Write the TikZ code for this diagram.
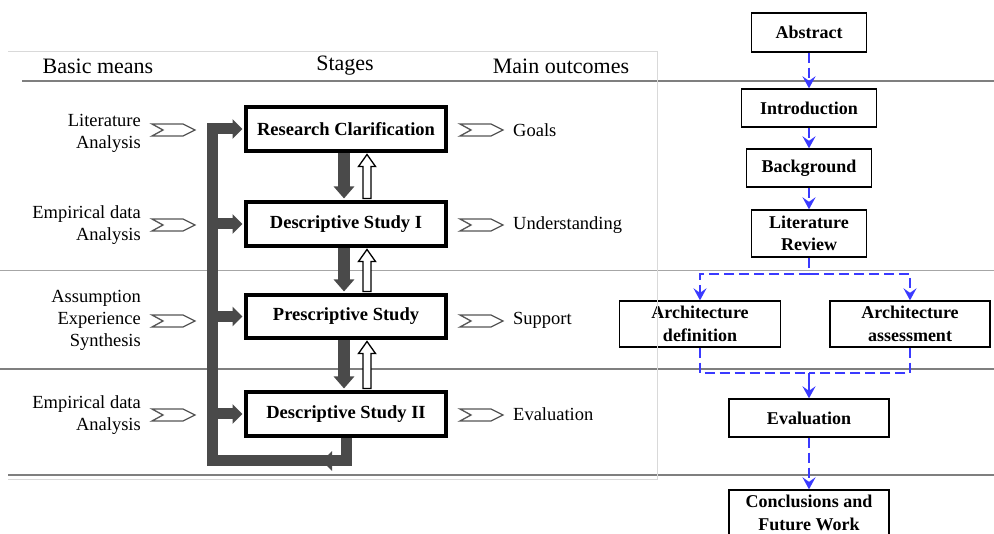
\documentclass[tikz,border=0pt]{standalone}
\usepackage{fontspec}
\setmainfont{Liberation Serif}
\usetikzlibrary{arrows.meta,calc}
\definecolor{barfill}{HTML}{4A4A4A}
\definecolor{flowblue}{HTML}{3A3AFF}
\definecolor{rulegray}{HTML}{7F7F7F}
\definecolor{rulelight}{HTML}{A6A6A6}
\definecolor{framegray}{HTML}{D9D9D9}
\definecolor{chevgray}{HTML}{555555}

\pgfdeclarelayer{rules}
\pgfdeclarelayer{links}
\pgfsetlayers{rules,links,main}

% hollow upward arrow between two stacked stage boxes
\newcommand{\hollowup}[2]{%
  \draw[hollow] let \p1=(#1.south), \p2=(#2.north) in
    (\x1+17pt,\y2+1.75pt) -- (\x1+17pt,\y1-13.75pt) -- (\x1+12.5pt,\y1-13.75pt)
    -- (\x1+21pt,\y1-1.75pt) -- (\x1+29.5pt,\y1-13.75pt) -- (\x1+25pt,\y1-13.75pt)
    -- (\x1+25pt,\y2+1.75pt) -- cycle;}

\begin{document}
\begin{tikzpicture}[x=1pt,y=-1pt,
  stagebox/.style={draw=black, line width=3.5pt, fill=white, minimum width=200pt,
    inner sep=0pt, font=\fontsize{18.5}{22}\selectfont\bfseries},
  chapbox/.style={draw=black, line width=1.3pt, fill=white, inner sep=0pt,
    align=center, font=\fontsize{18}{22.5}\selectfont\bfseries},
  header/.style={font=\fontsize{22}{26}\selectfont, inner sep=0pt},
  means/.style={font=\fontsize{18.5}{22}\selectfont, align=right, anchor=east, inner sep=0pt},
  outcome/.style={font=\fontsize{18.5}{22}\selectfont, anchor=west, inner sep=0pt},
  feedback/.style={draw=barfill, line width=11pt},
  fbtip/.style={-{Triangle[length=10pt,width=19pt]}},
  downbar/.style={draw=barfill, line width=12pt, -{Triangle[length=12pt,width=20pt]}},
  hollow/.style={draw=black, line width=1.3pt, fill=white, line join=miter},
  flowline/.style={draw=flowblue, line width=2pt, dash pattern=on 10pt off 5pt},
  flow/.style={flowline, -{Stealth[length=12pt,width=13pt,inset=4.5pt]}},
  chev/.pic={\draw[chevgray, line width=1.3pt, fill=white, line join=miter]
    (0,-6) -- (31,-6) -- (43,0) -- (31,6) -- (0,6) -- (11,0) -- cycle;}
]
\useasboundingbox (0,0) rectangle (994,534);
\clip (0,0) rectangle (994,534);

% horizontal rules of the table
\begin{pgfonlayer}{rules}
  \draw[rulegray, line width=1.3pt] (22,81) -- (994,81);
  \draw[rulelight, line width=1.3pt] (0,270.5) -- (994,270.5);
  \draw[rulegray, line width=1.3pt] (0,369) -- (994,369);
  \draw[rulegray, line width=1.3pt] (8,475) -- (994,475);
\end{pgfonlayer}

% column headers
\node[header] (hmeans) at (98,66) {Basic means};
\node[header] (hstages) at (345,66) {Stages};
\node[header] (houts) at (561,66) {Main outcomes};

% basic means
\node[means] (m1) at (141,133) {Literature\\Analysis};
\node[means] (m2) at (141,225) {Empirical data\\Analysis};
\node[means] (m3) at (141,320) {Assumption\\Experience\\Synthesis};
\node[means] (m4) at (141,415) {Empirical data\\Analysis};

% main outcomes
\node[outcome] (o1) at (513,130) {Goals};
\node[outcome] (o2) at (513,225) {Understanding};
\node[outcome] (o3) at (513,320) {Support};
\node[outcome] (o4) at (513,414) {Evaluation};

% notched input / output arrows
\foreach \yy in {130,225,321,415} {
  \pic at (152,\yy) {chev};
  \pic at (460,\yy) {chev};
}

% stages
\node[stagebox, minimum height=44pt] (rc) at (346,129) {Research Clarification};
\node[stagebox, minimum height=44pt] (ds1) at (346,224) {Descriptive Study I};
\node[stagebox, minimum height=43pt] (ps) at (346,316.5) {Prescriptive Study};
\node[stagebox, minimum height=44pt] (ds2) at (346,414) {Descriptive Study II};

\coordinate (fbL) at (212.5,461);
\coordinate (fbM) at (322,461);

\begin{pgfonlayer}{links}
  % forward flow between stages
  \draw[downbar, shorten >=1.75pt] ([xshift=-2pt]rc.south) -- ([xshift=-2pt]ds1.north);
  \draw[downbar, shorten >=1.75pt] ([xshift=-2pt]ds1.south) -- ([xshift=-2pt]ps.north);
  \draw[downbar, shorten >=1.75pt] ([xshift=-2pt]ps.south) -- ([xshift=-2pt]ds2.north);
  % iteration back to earlier stages
  \hollowup{rc}{ds1}
  \hollowup{ds1}{ps}
  \hollowup{ps}{ds2}
  % feedback loop
  \draw[feedback, fbtip] (ds2.south) |- (fbM);
  \draw[feedback, fbtip, shorten >=1.75pt] ([xshift=10pt]fbM) -- (fbL) |- (rc.west);
  \draw[feedback, fbtip, shorten >=1.75pt] (fbL |- ds1.west) -- (ds1.west);
  \draw[feedback, fbtip, shorten >=1.75pt] (fbL |- ps.west) -- (ps.west);
  \draw[feedback, fbtip, shorten >=1.75pt] (fbL |- ds2.west) -- (ds2.west);
\end{pgfonlayer}

% thesis structure
\node[chapbox, minimum width=115pt, minimum height=39pt] (abs) at (809,32.5) {Abstract};
\node[chapbox, minimum width=135pt, minimum height=38pt] (intro) at (809,108) {Introduction};
\node[chapbox, minimum width=125pt, minimum height=38pt] (bg) at (809,168) {Background};
\node[chapbox, minimum width=115pt, minimum height=47pt] (lit) at (809,233.5) {Literature\\Review};
\node[chapbox, minimum width=161pt, minimum height=46pt] (ad) at (700,324) {Architecture\\definition};
\node[chapbox, minimum width=160pt, minimum height=46pt] (aa) at (910,324) {Architecture\\assessment};
\node[chapbox, minimum width=160pt, minimum height=38pt] (ev) at (809,418) {Evaluation};
\node[chapbox, minimum width=160pt, minimum height=46pt] (conc) at (809,513) {Conclusions and\\Future Work};

\coordinate (split) at (809,274);
\coordinate (merge) at (809,373);

\draw[flow] (abs.south) -- (intro.north);
\draw[flow] (intro.south) -- (bg.north);
\draw[flow] (bg.south) -- (lit.north);
\draw[flowline] (lit.south) -- (split);
\draw[flow] (split) -| (ad.north);
\draw[flow] (split) -| (aa.north);
\draw[flowline] (ad.south) |- (merge);
\draw[flowline] (aa.south) |- (merge);
\draw[flow, solid] (merge) -- (ev.north);
\draw[flow] (ev.south) -- (conc.north);

% light frame of the left table
\draw[framegray, line width=1pt] (8,52) -- (657,52) -- (657,480) -- (8,480);
\end{tikzpicture}
\end{document}
